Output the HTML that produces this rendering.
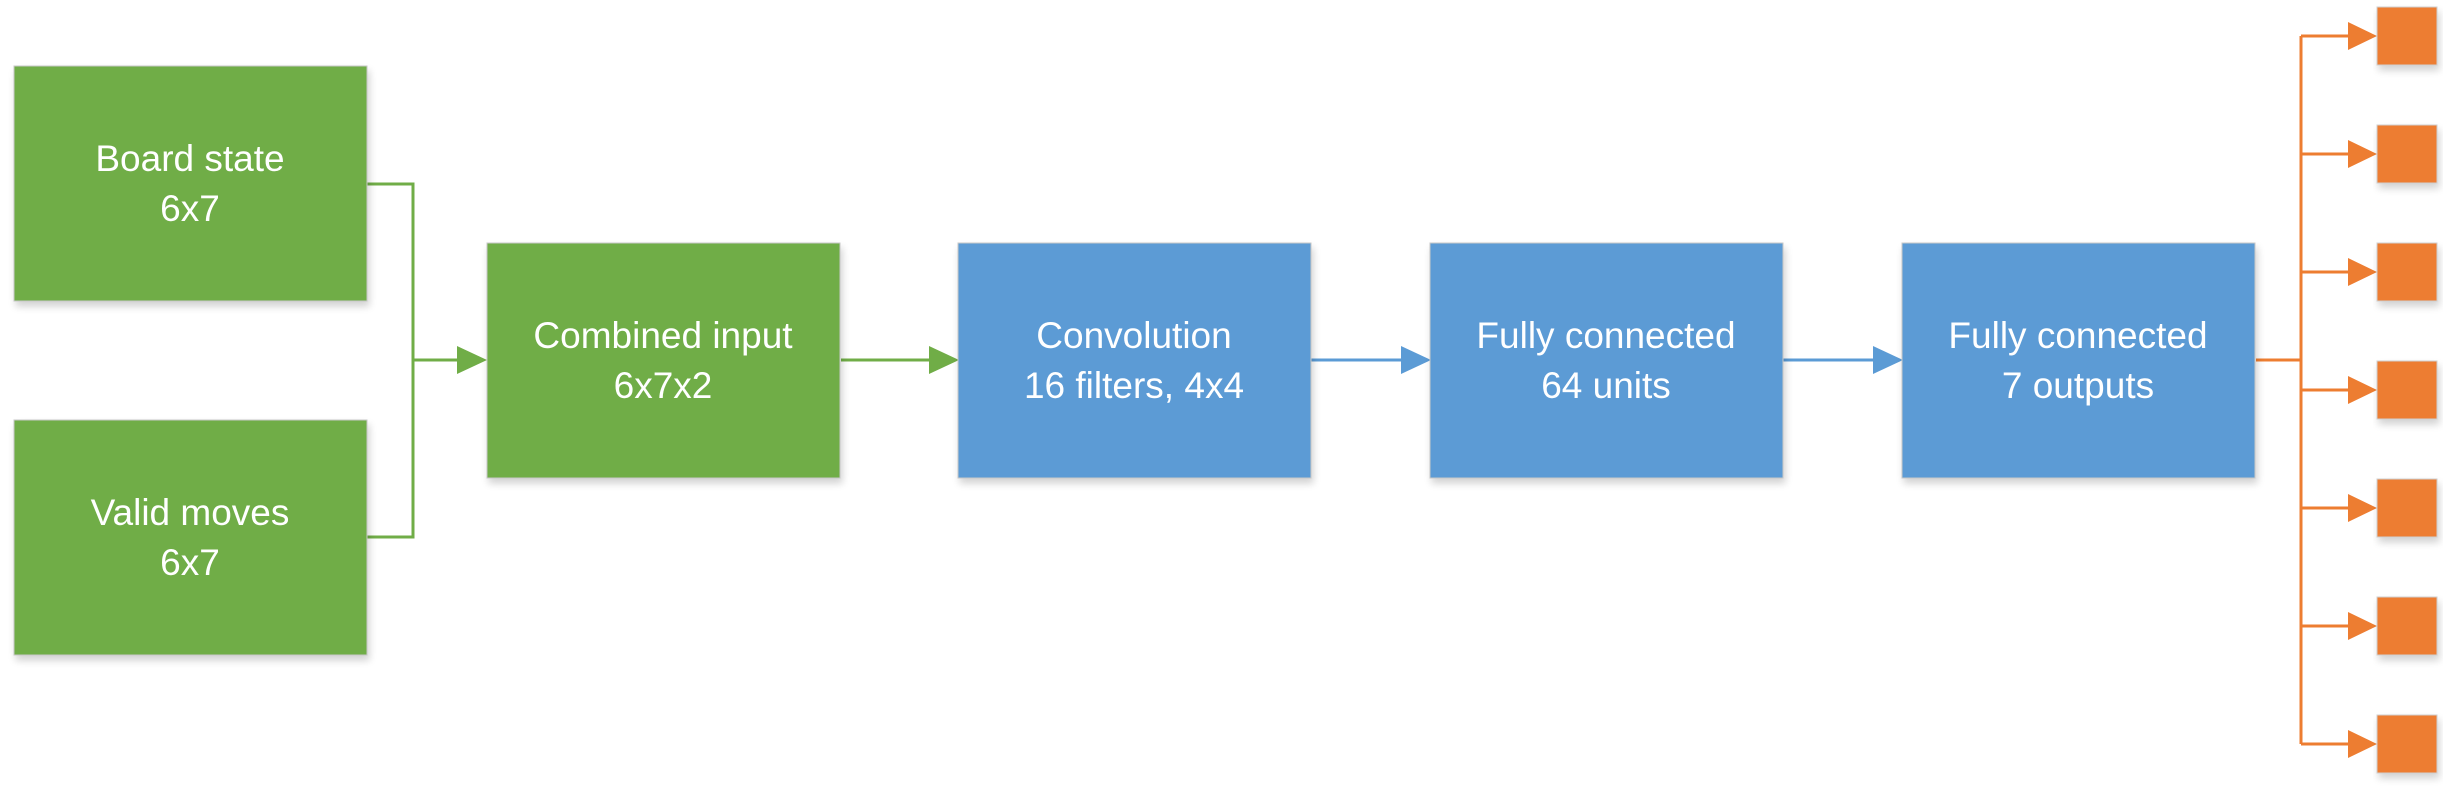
<!DOCTYPE html>
<html><head><meta charset="utf-8"><style>
html,body{margin:0;padding:0;background:#fff;width:2450px;height:797px;overflow:hidden}
svg text{font-family:"Liberation Sans",sans-serif;font-size:37px;fill:#fff;text-anchor:middle}
</style></head><body>
<svg width="2450" height="797" viewBox="0 0 2450 797" xmlns="http://www.w3.org/2000/svg">
<defs>
<filter id="sh" x="-10%" y="-10%" width="120%" height="130%">
<feGaussianBlur in="SourceAlpha" stdDeviation="4"/><feOffset dx="2" dy="5"/>
<feComponentTransfer><feFuncA type="linear" slope="0.18"/></feComponentTransfer>
<feMerge><feMergeNode/><feMergeNode in="SourceGraphic"/></feMerge></filter>
</defs>
<g stroke="#70AD47" stroke-width="3" fill="none">
<polyline points="367,184 413,184 413,537 367,537"/>
<line x1="413" y1="360" x2="458" y2="360"/>
<line x1="841" y1="360" x2="930" y2="360"/>
</g>
<polygon points="457,346 487,360 457,374" fill="#70AD47"/>
<polygon points="929,346 959,360 929,374" fill="#70AD47"/>
<g stroke="#5B9BD5" stroke-width="3">
<line x1="1311" y1="360" x2="1402" y2="360"/>
<line x1="1783" y1="360" x2="1874" y2="360"/>
</g>
<polygon points="1401,346 1431,360 1401,374" fill="#5B9BD5"/>
<polygon points="1873,346 1903,360 1873,374" fill="#5B9BD5"/>
<g stroke="#ED7D31" stroke-width="3" fill="none">
<line x1="2256" y1="360" x2="2301" y2="360"/>
<line x1="2301" y1="36" x2="2301" y2="744"/>
<line x1="2301" y1="36" x2="2350" y2="36"/>
<line x1="2301" y1="154" x2="2350" y2="154"/>
<line x1="2301" y1="272" x2="2350" y2="272"/>
<line x1="2301" y1="390" x2="2350" y2="390"/>
<line x1="2301" y1="508" x2="2350" y2="508"/>
<line x1="2301" y1="626" x2="2350" y2="626"/>
<line x1="2301" y1="744" x2="2350" y2="744"/>
</g>
<g fill="#ED7D31">
<polygon points="2348,22 2377,36 2348,50"/>
<polygon points="2348,140 2377,154 2348,168"/>
<polygon points="2348,258 2377,272 2348,286"/>
<polygon points="2348,376 2377,390 2348,404"/>
<polygon points="2348,494 2377,508 2348,522"/>
<polygon points="2348,612 2377,626 2348,640"/>
<polygon points="2348,730 2377,744 2348,758"/>
</g>
<g fill="#ED7D31" stroke="#d0d0d0" stroke-width="1" filter="url(#sh)">
<rect x="2377" y="7" width="60" height="58"/>
<rect x="2377" y="125" width="60" height="58"/>
<rect x="2377" y="243" width="60" height="58"/>
<rect x="2377" y="361" width="60" height="58"/>
<rect x="2377" y="479" width="60" height="58"/>
<rect x="2377" y="597" width="60" height="58"/>
<rect x="2377" y="715" width="60" height="58"/>
</g>
<g stroke="#c8c8c8" stroke-width="1" filter="url(#sh)">
<rect x="14" y="66" width="353" height="235" fill="#70AD47"/>
<rect x="14" y="420" width="353" height="235" fill="#70AD47"/>
<rect x="487" y="243" width="353" height="235" fill="#70AD47"/>
<rect x="958" y="243" width="353" height="235" fill="#5B9BD5"/>
<rect x="1430" y="243" width="353" height="235" fill="#5B9BD5"/>
<rect x="1902" y="243" width="353" height="235" fill="#5B9BD5"/>
</g>
<text x="190" y="171">Board state</text><text x="190" y="221">6x7</text>
<text x="190" y="525">Valid moves</text><text x="190" y="575">6x7</text>
<text x="663" y="348">Combined input</text><text x="663" y="398">6x7x2</text>
<text x="1134" y="348">Convolution</text><text x="1134" y="398">16 filters, 4x4</text>
<text x="1606" y="348">Fully connected</text><text x="1606" y="398">64 units</text>
<text x="2078" y="348">Fully connected</text><text x="2078" y="398">7 outputs</text>
</svg>
</body></html>
